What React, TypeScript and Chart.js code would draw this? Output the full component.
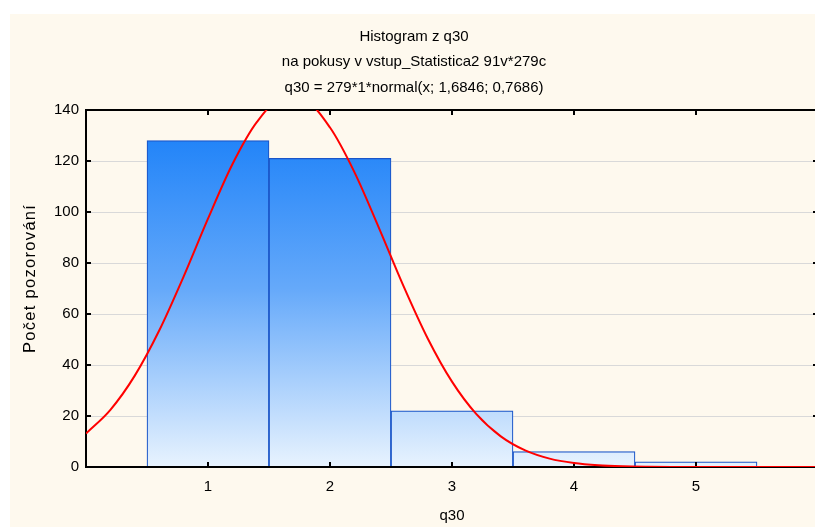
import React, { useEffect, useRef } from 'react';
import { Chart, registerables } from 'chart.js';

Chart.register(...registerables);

const titleLines = [
  'Histogram z q30',
  'na pokusy v vstup_Statistica2 91v*279c',
  'q30 = 279*1*normal(x; 1,6846; 0,7686)',
];
const xAxisTitle = 'q30';
const yAxisTitle = 'Počet pozorování';

const binCenters = [1, 2, 3, 4, 5];
const binCounts = [128, 121, 22, 6, 2];

const xTickValues = [1, 2, 3, 4, 5];
const yTickValues = [0, 20, 40, 60, 80, 100, 120, 140];

const curveX = [0, 0.2, 0.4, 0.6, 0.8, 1, 1.2, 1.4, 1.6, 1.8, 2, 2.2, 2.4, 2.6, 2.8, 3, 3.2, 3.4, 3.6, 3.8, 4, 4.2, 4.4, 4.6, 4.8, 5, 5.2, 5.4, 5.6, 5.8, 6];
const curveY = [13.11, 22.42, 35.83, 53.51, 74.67, 97.39, 118.71, 135.22, 143.94, 143.19, 133.12, 115.66, 93.91, 71.25, 50.52, 33.48, 20.73, 12.0, 6.49, 3.28, 1.55, 0.68, 0.28, 0.11, 0.04, 0.01, 0, 0, 0, 0, 0];

const FONT = "'Liberation Sans', Arial, sans-serif";

const framePlugin = {
  id: 'frameTicks',
  afterDatasetDraw(chart: any, args: any) {
    if (args.meta.type !== 'bar') return;
    const { ctx, chartArea, scales } = chart;
    const { left, right, top, bottom } = chartArea;
    ctx.save();
    ctx.fillStyle = '#000';
    ctx.fillRect(left - 1, top - 1, right - left + 2, 2);
    ctx.fillRect(left - 1, top - 1, 2, bottom - top + 2);
    ctx.fillRect(left - 1, bottom - 1, right - left + 2, 2);
    for (const v of yTickValues) {
      const y = Math.round(scales.y.getPixelForValue(v));
      ctx.fillRect(left, y - 1, 5, 2);
      ctx.fillRect(right - 5, y - 1, 5, 2);
    }
    for (const v of xTickValues) {
      const x = Math.round(scales.x.getPixelForValue(v));
      ctx.fillRect(x - 1, bottom - 5, 2, 4);
      ctx.fillRect(x - 1, top + 1, 2, 4);
    }
    ctx.restore();
  },
};

const yTitlePlugin = {
  id: 'yTitleSpaced',
  afterDraw(chart: any) {
    const { ctx } = chart;
    ctx.save();
    ctx.translate(20, 339);
    ctx.rotate(-Math.PI / 2);
    ctx.font = `16.5px ${FONT}`;
    try {
      (ctx as any).letterSpacing = '1.3px';
    } catch (e) {}
    ctx.fillStyle = '#000';
    ctx.textAlign = 'left';
    ctx.textBaseline = 'middle';
    ctx.fillText(yAxisTitle, 0, 0);
    ctx.restore();
  },
};

export default function App() {
  const canvasRef = useRef<HTMLCanvasElement | null>(null);

  useEffect(() => {
    if (!canvasRef.current) return;
    Chart.defaults.font.family = FONT;
    Chart.defaults.color = '#000';
    let gradCache: any = null;
    const chart = new Chart(canvasRef.current, {
      type: 'bar',
      data: {
        datasets: [
          {
            type: 'line',
            data: curveX.map((x, i) => ({ x, y: curveY[i] })),
            borderColor: '#ff0000',
            borderWidth: 2,
            pointRadius: 0,
            fill: false,
            cubicInterpolationMode: 'monotone',
            order: 0,
          } as any,
          {
            type: 'bar',
            data: binCenters.map((x, i) => ({ x, y: binCounts[i] })),
            backgroundColor: (c: any) => {
              const area = c.chart.chartArea;
              if (!area) return '#4a9cf8';
              if (!gradCache) {
                const g = c.chart.ctx.createLinearGradient(0, area.top, 0, area.bottom);
                g.addColorStop(0, '#157df8');
                g.addColorStop(0.5, '#65a9fa');
                g.addColorStop(1, '#e8f3fe');
                gradCache = g;
              }
              return gradCache;
            },
            borderColor: '#1a55c8',
            borderWidth: 1.2,
            borderSkipped: 'start',
            barPercentage: 1,
            categoryPercentage: 1,
            order: 1,
          } as any,
        ],
      },
      options: {
        responsive: false,
        animation: false,
        devicePixelRatio: 1,
        layout: { padding: { left: 0, right: 2, top: 0, bottom: 0 } },
        plugins: {
          legend: { display: false },
          tooltip: { enabled: false },
          title: {
            display: true,
            text: titleLines,
            color: '#000',
            font: { family: FONT, size: 15, weight: 'normal', lineHeight: 1.7 },
            padding: { top: 10, bottom: 9.5 },
          },
        },
        scales: {
          x: {
            type: 'linear',
            min: 0,
            max: 6,
            offset: false,
            grid: { display: false, drawTicks: false },
            border: { display: false },
            afterBuildTicks: (s: any) => {
              s.ticks = xTickValues.map((v) => ({ value: v }));
            },
            afterFit: (s: any) => {
              s.height = 60;
            },
            ticks: {
              color: '#000',
              font: { family: FONT, size: 15 },
              padding: 11,
              maxRotation: 0,
              autoSkip: false,
            },
            title: {
              display: true,
              text: xAxisTitle,
              color: '#000',
              font: { family: FONT, size: 15 },
              padding: { top: 0, bottom: 2 },
            },
          },
          y: {
            type: 'linear',
            min: 0,
            max: 140,
            afterBuildTicks: (s: any) => {
              s.ticks = yTickValues.map((v) => ({ value: v }));
            },
            afterFit: (s: any) => {
              s.width = 76;
            },
            grid: {
              color: (c: any) => (c.tick && (c.tick.value === 0 || c.tick.value === 140) ? 'rgba(0,0,0,0)' : '#d9d9d9'),
              lineWidth: 1,
              drawTicks: false,
            },
            border: { display: false },
            ticks: {
              color: '#000',
              font: { family: FONT, size: 15 },
              padding: 7,
            },
            title: { display: false },
          },
        },
      } as any,
      plugins: [framePlugin, yTitlePlugin],
    });
    return () => chart.destroy();
  }, []);

  return (
    <div
      style={{
        position: 'absolute',
        left: 10,
        top: 14,
        width: 805,
        height: 513,
        overflow: 'hidden',
        background: '#fef9ee',
      }}
    >
      <canvas ref={canvasRef} width={810} height={513} style={{ display: 'block' }} />
    </div>
  );
}
